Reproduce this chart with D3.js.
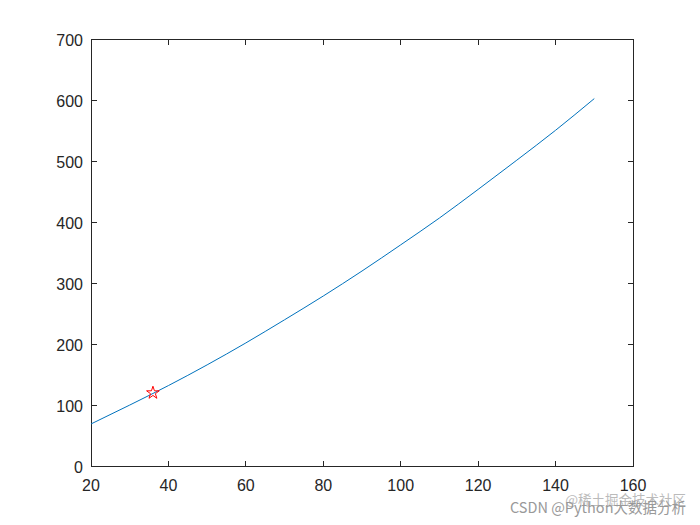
<!DOCTYPE html>
<html>
<head>
<meta charset="utf-8">
<script src="https://cdn.jsdelivr.net/npm/d3@7"></script>
<style>
html,body{margin:0;padding:0;background:#fff;}
svg{display:block;}
text{font-family:"Liberation Sans", Arial, Helvetica, sans-serif;}
</style>
</head>
<body>
<script>
const xValues = [20, 30, 40, 50, 60, 70, 80, 90, 100, 110, 120, 130, 140, 150];
const yValues = [69, 100, 132, 166, 202, 240, 279, 320, 363, 407, 454, 502, 551, 603];
const markerPoint = [36, 120];
const xTicks = [20, 40, 60, 80, 100, 120, 140, 160];
const yTicks = [0, 100, 200, 300, 400, 500, 600, 700];

const W = 700, H = 525;
const L = 91, R = 633, T = 39.5, B = 466;
const svg = d3.select("body").append("svg").attr("width", W).attr("height", H);

const x = d3.scaleLinear().domain([20, 160]).range([L, R]);
const y = d3.scaleLinear().domain([0, 700]).range([B, T]);
const axCol = "#262626";
const tl = 5.5;
const fs = 16;

// box
svg.append("rect").attr("x", L).attr("y", T).attr("width", R - L).attr("height", B - T)
  .attr("fill", "#fff").attr("stroke", axCol).attr("stroke-width", 1).attr("shape-rendering", "crispEdges");

const g = svg.append("g").attr("shape-rendering", "crispEdges");
xTicks.forEach(v => {
  g.append("line").attr("x1", x(v)).attr("x2", x(v)).attr("y1", B).attr("y2", B - tl).attr("stroke", axCol);
  g.append("line").attr("x1", x(v)).attr("x2", x(v)).attr("y1", T).attr("y2", T + tl).attr("stroke", axCol);
  svg.append("text").attr("x", x(v)).attr("y", B + 25).attr("text-anchor", "middle")
    .attr("font-size", fs).attr("fill", axCol).text(v);
});
yTicks.forEach(v => {
  g.append("line").attr("x1", L).attr("x2", L + tl).attr("y1", y(v)).attr("y2", y(v)).attr("stroke", axCol);
  g.append("line").attr("x1", R).attr("x2", R - tl).attr("y1", y(v)).attr("y2", y(v)).attr("stroke", axCol);
  svg.append("text").attr("x", L - 8).attr("y", y(v) + 6.5).attr("text-anchor", "end")
    .attr("font-size", fs).attr("fill", axCol).text(v);
});

const data = xValues.map((d, i) => [d, yValues[i]]);
const line = d3.line().x(d => x(d[0])).y(d => y(d[1])).curve(d3.curveMonotoneX);
svg.append("path").datum(data).attr("d", line).attr("fill", "none")
  .attr("stroke", "#0072BD").attr("stroke-width", 1);

svg.append("path")
  .attr("d", d3.symbol().type(d3.symbolStar).size(50)())
  .attr("transform", `translate(${x(markerPoint[0])},${y(markerPoint[1])})`)
  .attr("fill", "none").attr("stroke", "#FF0000").attr("stroke-width", 1);

// watermarks
svg.append("text").attr("x", 686).attr("y", 505).attr("text-anchor", "end")
  .attr("font-size", 13.5).attr("fill", "#bbb")
  .style("font-family", "'Noto Sans CJK SC', sans-serif").text("@稀土掘金技术社区");
svg.append("text").attr("x", 686).attr("y", 513).attr("text-anchor", "end")
  .attr("font-size", 14.5).attr("fill", "#999")
  .style("font-family", "'Noto Sans CJK SC', sans-serif").text("CSDN @Python大数据分析");
</script>
</body>
</html>
